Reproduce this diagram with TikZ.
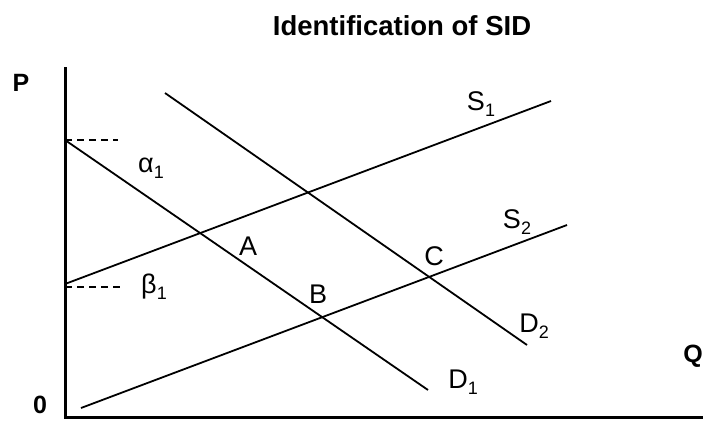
\documentclass[tikz,border=0pt]{standalone}
\usepackage{fontspec}
\setmainfont{Liberation Sans}
\usepackage{tikz}
\usetikzlibrary{positioning,calc}
\tikzset{
  sidaxis/.style={draw=black, line width=3pt},
  sidcurve/.style={draw=black, line width=1.8pt},
  sidguide/.style={draw=black, line width=1.5pt, dash pattern=on 7pt off 5pt},
  sidlabel/.style={inner sep=0pt, font=\fontsize{27}{30}\selectfont},
  sidaxislabel/.style={inner sep=0pt, font=\fontsize{25}{30}\selectfont\bfseries},
  sidtitle/.style={inner sep=0pt, font=\fontsize{27.5}{32}\selectfont\bfseries},
}
\newcommand{\sidsub}[1]{\raisebox{-0.22em}{\fontsize{18}{20}\selectfont #1}}

\begin{document}
\begin{tikzpicture}[x=1pt,y=-1pt]
  \useasboundingbox (0,0) rectangle (703,423);
  % axes
  \coordinate (origin) at (65,417);
  \coordinate (ptop) at (65,67);
  \coordinate (qend) at (703,417);
  \draw[sidaxis] (ptop) -- (origin) -- (qend);
  % curve end points
  \coordinate (d1a) at (65,140);  \coordinate (d1b) at (428,390);
  \coordinate (d2a) at (165,93);  \coordinate (d2b) at (527,345);
  \coordinate (s1a) at (65,284);  \coordinate (s1b) at (551,101);
  \coordinate (s2a) at (81,408);  \coordinate (s2b) at (567,225);
  \draw[sidcurve] (d1a) -- (d1b);
  \draw[sidcurve] (d2a) -- (d2b);
  \draw[sidcurve] (s1a) -- (s1b);
  \draw[sidcurve] (s2a) -- (s2b);
  % intercept guides
  \coordinate (alphaend) at (118,140);
  \coordinate (betaend) at (124,287);
  \draw[sidguide] (d1a) -- (alphaend);
  \draw[sidguide] ($(s1a)+(0,3)$) -- (betaend);
  % labels
  \node[sidtitle] (title) at (402,26) {Identification of SID};
  \node[sidaxislabel] (plabel) at (21,83) {P};
  \node[sidaxislabel] (qlabel) at (693,356) {Q};
  \node[sidaxislabel] (zerolabel) at (40,405) {0};
  \node[sidlabel] (alpha) at (151,168) {α\sidsub{1}};
  \node[sidlabel] (beta) at (154,287) {β\sidsub{1}};
  \node[sidlabel] (pointa) at (248,246) {A};
  \node[sidlabel] (pointb) at (318,294) {B};
  \node[sidlabel] (pointc) at (434,256) {C};
  \node[sidlabel] (s1label) at (481,104) {S\sidsub{1}};
  \node[sidlabel] (s2label) at (517,222) {S\sidsub{2}};
  \node[sidlabel] (d2label) at (534,326) {D\sidsub{2}};
  \node[sidlabel] (d1label) at (463,382) {D\sidsub{1}};
\end{tikzpicture}
\end{document}
